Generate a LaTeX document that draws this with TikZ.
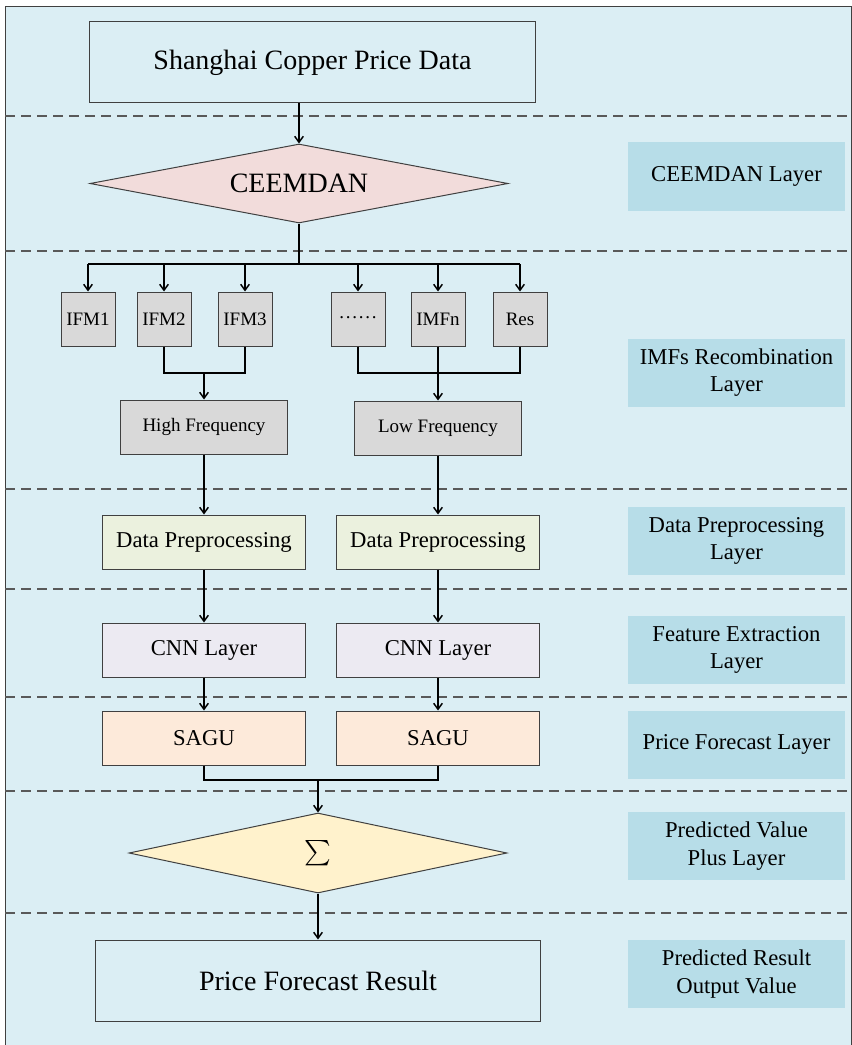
\documentclass[tikz,border=0pt]{standalone}
\usepackage{fontspec}
\setmainfont{Liberation Serif}
\usetikzlibrary{shapes.geometric,arrows.meta}

\definecolor{bgblue}{RGB}{219,238,244}
\definecolor{tagblue}{RGB}{183,221,232}
\definecolor{rosefill}{RGB}{242,220,219}
\definecolor{greyfill}{RGB}{217,217,217}
\definecolor{greenfill}{RGB}{235,241,222}
\definecolor{lilacfill}{RGB}{236,234,242}
\definecolor{peachfill}{RGB}{253,234,218}
\definecolor{creamfill}{RGB}{255,242,204}
\definecolor{edgegrey}{RGB}{64,64,64}
\definecolor{dashgrey}{RGB}{89,89,89}

\begin{document}
\begin{tikzpicture}[x=0.75pt, y=-0.75pt,
bigbox/.style={draw=edgegrey, line width=0.75pt, fill=bgblue, rectangle, minimum width=334pt, minimum height=60.75pt, inner sep=0pt, font=\fontsize{21}{24}\selectfont},
imfbox/.style={draw=edgegrey, line width=0.75pt, fill=greyfill, rectangle, minimum width=40.5pt, minimum height=40.5pt, inner sep=0pt, font=\fontsize{14.25}{17}\selectfont},
freqbox/.style={imfbox, minimum width=125.25pt},
stagebox/.style={draw=edgegrey, line width=0.75pt, rectangle, minimum width=152.25pt, minimum height=40.5pt, inner sep=0pt, font=\fontsize{17}{20}\selectfont},
decision/.style={draw=edgegrey, line width=0.75pt, diamond, inner sep=0pt, font=\fontsize{21}{24}\selectfont},
tagbox/.style={fill=tagblue, rectangle, minimum width=162.75pt, minimum height=51pt, inner sep=0pt, align=center, font=\fontsize{17}{20.5}\selectfont},
layerline/.style={dashgrey, line width=0.9pt, dash pattern=on 7.5pt off 4.5pt},
flow/.style={line width=1.1pt, -{Straight Barb[length=4.5pt, width=6.5pt]}},
bus/.style={line width=1.9pt}
]

\useasboundingbox (0,0) rectangle (851,1045);
\draw[edgegrey, line width=0.75pt, fill=bgblue] (5,7) rectangle (851,1046);

% layer separators
\foreach \y in {116,251,489,589,697,791,913}
  \draw[layerline] (5,\y) -- (851,\y);

\node (src) at (312.5, 62.5) [bigbox] {Shanghai Copper Price Data};
\node (ceemdan) at (299, 183.5) [decision, fill=rosefill, shape aspect=5.29, minimum width=313.5pt, minimum height=59.25pt] {CEEMDAN};

\node (imf1) at (88, 319) [imfbox] {IFM1};
\node (imf2) at (164, 319) [imfbox] {IFM2};
\node (imf3) at (245, 319) [imfbox] {IFM3};
\node (imfd) at (358, 319) [imfbox] {\raisebox{0.45ex}{.\kern1.3pt.\kern1.3pt.\kern1.3pt.\kern1.3pt.\kern1.3pt.}};
\node (imfn) at (438, 319) [imfbox] {IMFn};
\node (res) at (520, 319) [imfbox] {Res};

\node (high) at (204, 427) [freqbox] {High Frequency};
\node (low) at (438, 428) [freqbox] {Low Frequency};

\node (prep1) at (204, 542) [stagebox, fill=greenfill] {Data Preprocessing};
\node (prep2) at (438, 542) [stagebox, fill=greenfill] {Data Preprocessing};
\node (cnn1) at (204, 650) [stagebox, fill=lilacfill] {CNN Layer};
\node (cnn2) at (438, 650) [stagebox, fill=lilacfill] {CNN Layer};
\node (sagu1) at (204, 738) [stagebox, fill=peachfill] {SAGU};
\node (sagu2) at (438, 738) [stagebox, fill=peachfill] {SAGU};

\node (plus) at (318, 853) [decision, fill=creamfill, shape aspect=4.72, minimum width=283.5pt, minimum height=60pt] {\scalebox{1.9}{$\sum$}};
\node (out) at (318, 980.5) [bigbox] {Price Forecast Result};

% layer names on the right
\node (t1) at (736.5, 176.5) [tagbox] {CEEMDAN Layer};
\node (t2) at (736.5, 372.5) [tagbox] {IMFs Recombination\\Layer};
\node (t3) at (736.5, 541) [tagbox] {Data Preprocessing\\Layer};
\node (t4) at (736.5, 650) [tagbox] {Feature Extraction\\Layer};
\node (t5) at (736.5, 744.5) [tagbox] {Price Forecast Layer};
\node (t6) at (736.5, 846) [tagbox] {Predicted Value\\Plus Layer};
\node (t7) at (736.5, 974) [tagbox] {Predicted Result\\Output Value};

% connectors
\coordinate (split) at (299, 264);
\coordinate (hjoin) at (204, 373);
\coordinate (ljoin) at (438, 373);
\coordinate (sjoin) at (318, 780);

\draw[flow] (ceemdan.north |- src.south) -- (ceemdan.north);
\draw[bus] (ceemdan.south) -- (split);
\draw[bus] (imf1.north |- split) -- (res.north |- split);
\foreach \n in {imf1,imf2,imf3,imfd,imfn,res}
  \draw[flow] (\n.north |- split) -- (\n.north);

\draw[line width=1.1pt] (imf2.south) |- (hjoin) -| (imf3.south);
\draw[flow] (hjoin) -- (high);
\draw[line width=1.1pt] (imfd.south) |- (ljoin) -| (res.south);
\draw[line width=1.1pt] (imfn.south) -- (ljoin);
\draw[flow] (ljoin) -- (low);

\draw[flow] (high) -- (prep1);
\draw[flow] (low) -- (prep2);
\draw[flow] (prep1) -- (cnn1);
\draw[flow] (prep2) -- (cnn2);
\draw[flow] (cnn1) -- (sagu1);
\draw[flow] (cnn2) -- (sagu2);

\draw[line width=1.1pt] (sagu1.south) |- (sjoin) -| (sagu2.south);
\draw[flow] (sjoin) -- (plus);
\draw[flow] (plus) -- (out);

\end{tikzpicture}
\end{document}
